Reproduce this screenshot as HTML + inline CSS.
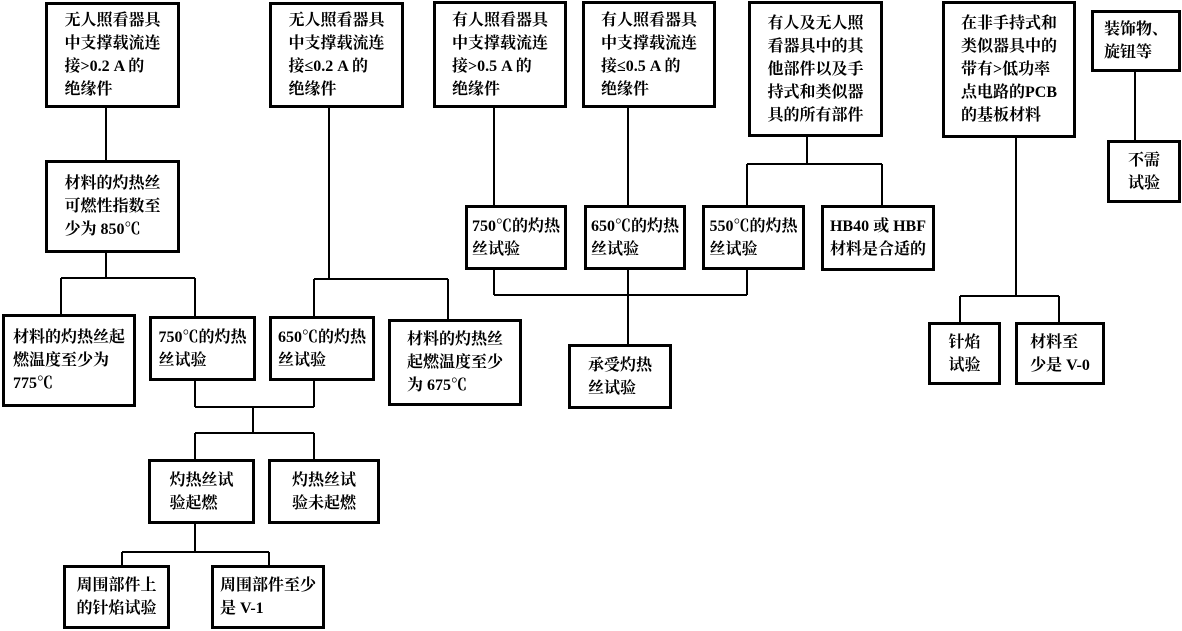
<!DOCTYPE html>
<html><head><meta charset="utf-8"><style>
body{margin:0;background:#fff;}
#c{position:relative;width:1182px;height:631px;overflow:hidden;background:#fff;}
.b{position:absolute;box-sizing:border-box;border:3px solid #000;display:flex;align-items:center;justify-content:center;font-family:"Liberation Serif","Noto Serif CJK SC","Noto Sans CJK SC",serif;font-weight:bold;font-size:16px;line-height:23px;color:#000;}
.b div{text-align:left;white-space:nowrap;}
svg{position:absolute;left:0;top:0;}
</style></head><body><div id="c">
<svg width="1182" height="631" stroke="#000" stroke-width="2" fill="none">
<path d="M106 108V160M106 253V278M61 278H195M61 278V314M195 278V316"/>
<path d="M329 108V279M314 279H448M314 279V316M448 279V319"/>
<path d="M195 381V407M314 381V407M195 407H314M253 407V433M195 433H314M195 433V459M314 433V459"/>
<path d="M195 524V552M122 552H269M122 552V565M269 552V565"/>
<path d="M494 108V205M628 108V205M807 137V164M747 164H882M747 164V205M882 164V205"/>
<path d="M494 270V295M628 270V344M747 270V295M494 295H747"/>
<path d="M1016 138V296M960 296H1059M960 296V322M1059 296V322M1135 72V140"/>
</svg>
<div class="b" style="left:45px;top:2px;width:135px;height:106px"><div>无人照看器具<br>中支撑载流连<br>接&gt;0.2 A 的<br>绝缘件</div></div>
<div class="b" style="left:269px;top:2px;width:135px;height:106px"><div>无人照看器具<br>中支撑载流连<br>接≤0.2 A 的<br>绝缘件</div></div>
<div class="b" style="left:433px;top:1px;width:134px;height:107px"><div>有人照看器具<br>中支撑载流连<br>接&gt;0.5 A 的<br>绝缘件</div></div>
<div class="b" style="left:582px;top:1px;width:134px;height:107px"><div>有人照看器具<br>中支撑载流连<br>接≤0.5 A 的<br>绝缘件</div></div>
<div class="b" style="left:748px;top:1px;width:135px;height:136px"><div>有人及无人照<br>看器具中的其<br>他部件以及手<br>持式和类似器<br>具的所有部件</div></div>
<div class="b" style="left:942px;top:1px;width:134px;height:137px"><div>在非手持式和<br>类似器具中的<br>带有&gt;低功率<br>点电路的PCB<br>的基板材料</div></div>
<div class="b" style="left:1091px;top:10px;width:90px;height:62px"><div>装饰物、<br>旋钮等</div></div>
<div class="b" style="left:1107px;top:140px;width:74px;height:63px"><div>不需<br>试验</div></div>
<div class="b" style="left:45px;top:160px;width:135px;height:93px"><div>材料的灼热丝<br>可燃性指数至<br>少为 850℃</div></div>
<div class="b" style="left:465px;top:205px;width:102px;height:65px"><div>750℃的灼热<br>丝试验</div></div>
<div class="b" style="left:584px;top:205px;width:102px;height:65px"><div>650℃的灼热<br>丝试验</div></div>
<div class="b" style="left:702px;top:205px;width:103px;height:65px"><div>550℃的灼热<br>丝试验</div></div>
<div class="b" style="left:821px;top:205px;width:114px;height:66px"><div>HB40 或 HBF<br>材料是合适的</div></div>
<div class="b" style="left:2px;top:314px;width:134px;height:93px"><div>材料的灼热丝起<br>燃温度至少为<br>775℃</div></div>
<div class="b" style="left:149px;top:316px;width:107px;height:65px"><div>750℃的灼热<br>丝试验</div></div>
<div class="b" style="left:269px;top:316px;width:106px;height:65px"><div>650℃的灼热<br>丝试验</div></div>
<div class="b" style="left:388px;top:319px;width:134px;height:87px"><div>材料的灼热丝<br>起燃温度至少<br>为 675℃</div></div>
<div class="b" style="left:568px;top:344px;width:104px;height:65px"><div>承受灼热<br>丝试验</div></div>
<div class="b" style="left:928px;top:322px;width:73px;height:63px"><div>针焰<br>试验</div></div>
<div class="b" style="left:1015px;top:322px;width:90px;height:63px"><div>材料至<br>少是 V-0</div></div>
<div class="b" style="left:148px;top:459px;width:107px;height:65px"><div>灼热丝试<br>验起燃</div></div>
<div class="b" style="left:268px;top:459px;width:112px;height:65px"><div>灼热丝试<br>验未起燃</div></div>
<div class="b" style="left:63px;top:565px;width:107px;height:64px"><div>周围部件上<br>的针焰试验</div></div>
<div class="b" style="left:211px;top:565px;width:114px;height:64px"><div>周围部件至少<br>是 V-1</div></div>
</div></body></html>
